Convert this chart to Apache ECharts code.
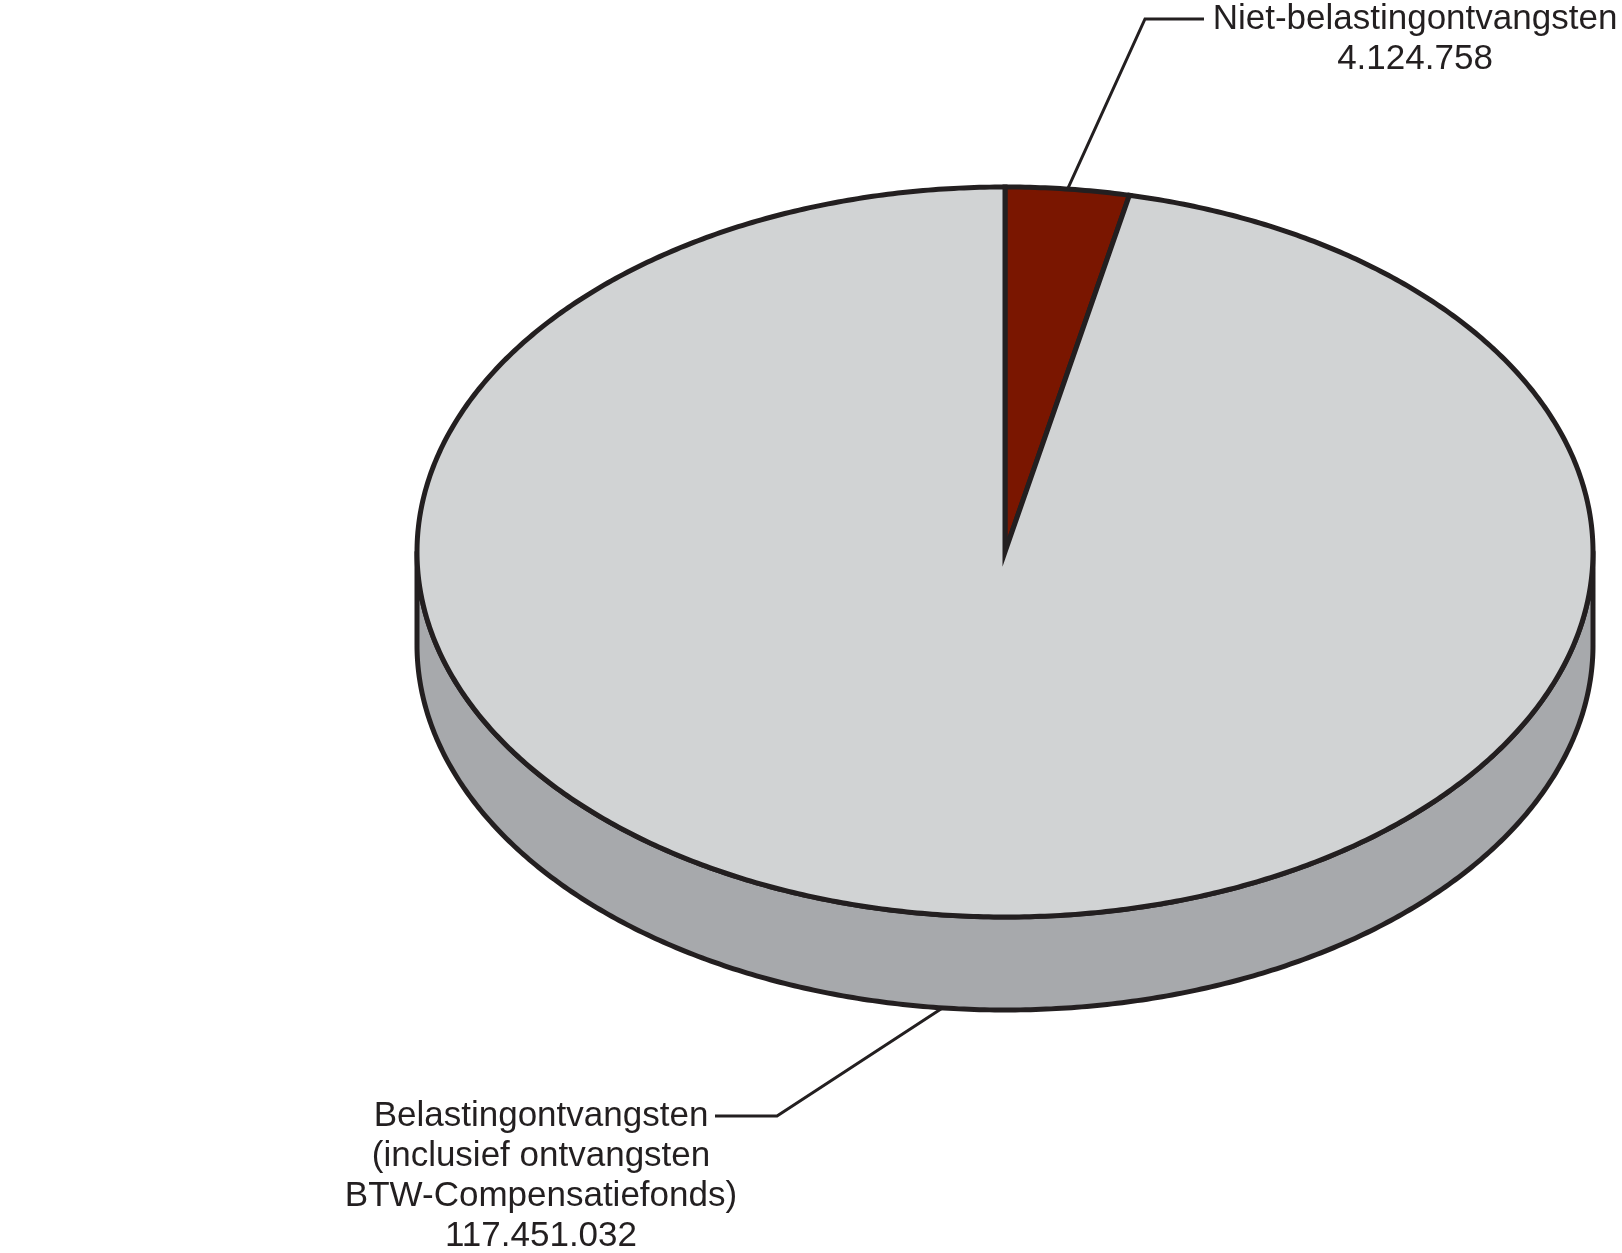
<!DOCTYPE html>
<html>
<head>
<meta charset="utf-8">
<script src="https://cdn.jsdelivr.net/npm/echarts@6/dist/echarts.min.js"></script>
<style>
  html, body { margin: 0; padding: 0; background: #fff; }
  #chart { width: 1622px; height: 1253px; }
</style>
</head>
<body>
<div id="chart"></div>
<script>
// data
const names = [
  'Niet-belastingontvangsten',
  'Belastingontvangsten\n(inclusief ontvangsten\nBTW-Compensatiefonds)'
];
const values = [4124758, 117451032];

// styles / layout
const topColors = ['#7a1600', '#d1d3d4'];
const sideColors = ['#4e0e00', '#a7a9ac'];
const lineColor = '#231f20';
const cx = 1005, cy = 552, rx = 588, ry = 365, depth = 93;
const labelLayout = [
  { elbow: [1145, 19], end: [1204, 19], text: [1415, -1], lineHeight: 40 },
  { elbow: [777, 1116], end: [715, 1116], text: [541, 1096], lineHeight: 40 }
];

const total = values.reduce((a, b) => a + b, 0);
const starts = [];
let acc = 0;
values.forEach(v => { starts.push(acc); acc += v; });

const ang = v => v / total * Math.PI * 2;
const pt = (t, dy) => [cx + rx * Math.sin(t), cy - ry * Math.cos(t) + (dy || 0)];
function arc(t0, t1, dy) {
  const n = Math.max(2, Math.ceil(Math.abs(t1 - t0) / (Math.PI / 360)));
  const pts = [];
  for (let i = 0; i <= n; i++) pts.push(pt(t0 + (t1 - t0) * i / n, dy));
  return pts;
}
const fmt = v => String(v).replace(/\B(?=(\d{3})+(?!\d))/g, '.');

function renderSide(params, api) {
  const i = params.dataIndex;
  const a0 = ang(starts[i]), a1 = ang(starts[i] + api.value(0));
  const s0 = Math.max(a0, Math.PI / 2), s1 = Math.min(a1, Math.PI * 1.5);
  if (s1 <= s0) return { type: 'group', children: [] };
  const pts = arc(s0, s1, 0).concat(arc(s1, s0, depth));
  return {
    type: 'polygon',
    shape: { points: pts },
    style: { fill: sideColors[i], stroke: lineColor, lineWidth: 5, lineJoin: 'round' }
  };
}

function renderTop(params, api) {
  const i = params.dataIndex;
  const a0 = ang(starts[i]), a1 = ang(starts[i] + api.value(0));
  const pts = [[cx, cy]].concat(arc(a0, a1, 0));
  const tm = (a0 + a1) / 2;
  const anchor = Math.cos(tm) < 0 ? pt(tm, depth) : pt(tm, 0);
  const lay = labelLayout[i];
  return {
    type: 'group',
    children: [
      {
        type: 'polygon',
        shape: { points: pts },
        style: { fill: topColors[i], stroke: lineColor, lineWidth: 5, lineJoin: 'miter' }
      },
      {
        type: 'polyline',
        shape: { points: [anchor, lay.elbow, lay.end] },
        style: { fill: null, stroke: lineColor, lineWidth: 3 },
        z2: 10
      },
      {
        type: 'text',
        z2: 10,
        style: {
          text: names[i] + '\n' + fmt(api.value(0)),
          x: lay.text[0],
          y: lay.text[1],
          align: 'center',
          verticalAlign: 'top',
          fontFamily: '"Liberation Sans", Arial, sans-serif',
          fontSize: 35,
          lineHeight: lay.lineHeight,
          fill: lineColor
        }
      }
    ]
  };
}

const chart = echarts.init(document.getElementById('chart'));
chart.setOption({
  backgroundColor: '#ffffff',
  animation: false,
  series: [
    { type: 'custom', coordinateSystem: 'none', silent: true, renderItem: renderSide, data: values },
    { type: 'custom', coordinateSystem: 'none', silent: true, renderItem: renderTop, data: values }
  ]
});
</script>
</body>
</html>
